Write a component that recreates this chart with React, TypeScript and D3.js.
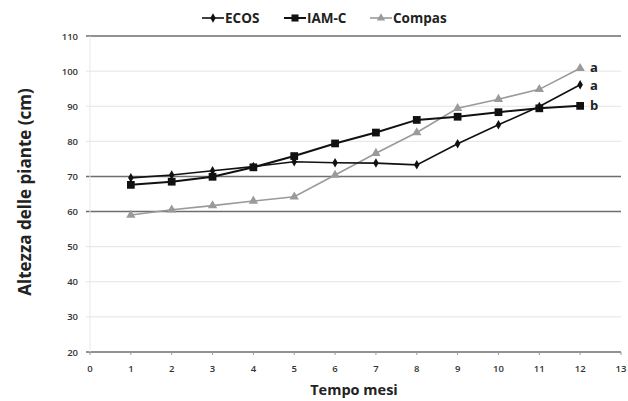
import { useEffect, useRef } from "react"
import * as d3 from "d3"

const months = [1, 2, 3, 4, 5, 6, 7, 8, 9, 10, 11, 12]
const ecos = [69.6, 70.4, 71.6, 72.8, 74.2, 73.9, 73.8, 73.3, 79.3, 84.7, 89.9, 96.1]
const iamc = [67.6, 68.5, 69.9, 72.6, 75.8, 79.4, 82.5, 86.1, 87.0, 88.3, 89.4, 90.1]
const compas = [59.0, 60.5, 61.7, 63.0, 64.2, 70.4, 76.6, 82.5, 89.4, 92.0, 94.8, 100.8]
const yTicks = [20, 30, 40, 50, 60, 70, 80, 90, 100, 110]
const darkLines = [20, 60, 70, 110]
const xTicks = d3.range(0, 14)
const endLetters = [
    { v: 101, t: "a" },
    { v: 96, t: "a" },
    { v: 90.2, t: "b" },
]

const FONT = "'Open Sans', 'DejaVu Sans', sans-serif"

export default function App() {
    const ref = useRef<SVGSVGElement | null>(null)

    useEffect(() => {
        const svg = d3.select(ref.current)
        svg.selectAll("*").remove()

        const x = d3.scaleLinear().domain([0, 13]).range([90, 621])
        const y = d3.scaleLinear().domain([20, 110]).range([352, 36])

        // grid lines
        svg.append("g")
            .selectAll("line")
            .data(yTicks)
            .join("line")
            .attr("x1", 86)
            .attr("x2", 621)
            .attr("y1", d => y(d))
            .attr("y2", d => y(d))
            .attr("stroke", d => (darkLines.includes(d) ? "#6e6e6e" : "#e4e4e4"))
            .attr("stroke-width", d => (darkLines.includes(d) ? 1.4 : 1))

        // faint vertical axis
        svg.append("line")
            .attr("x1", x(0)).attr("x2", x(0))
            .attr("y1", y(110)).attr("y2", y(20))
            .attr("stroke", "#e8e8e8")

        // x tick marks
        svg.append("g")
            .selectAll("line")
            .data(xTicks)
            .join("line")
            .attr("x1", d => x(d)).attr("x2", d => x(d))
            .attr("y1", y(20)).attr("y2", y(20) + 3)
            .attr("stroke", "#999")

        // y labels
        svg.append("g")
            .selectAll("text")
            .data(yTicks)
            .join("text")
            .attr("x", 78)
            .attr("y", d => y(d) + 3.5)
            .attr("text-anchor", "end")
            .attr("font-family", FONT)
            .attr("font-size", 9.5)
            .attr("font-weight", 600)
            .attr("fill", "#333")
            .text(d => d)

        // x labels
        svg.append("g")
            .selectAll("text")
            .data(xTicks)
            .join("text")
            .attr("x", d => x(d))
            .attr("y", 372)
            .attr("text-anchor", "middle")
            .attr("font-family", FONT)
            .attr("font-size", 9.5)
            .attr("font-weight", 600)
            .attr("fill", "#333")
            .text(d => d)

        // axis titles
        svg.append("text")
            .attr("x", 354)
            .attr("y", 395)
            .attr("text-anchor", "middle")
            .attr("font-family", FONT)
            .attr("font-weight", 700)
            .attr("font-size", 14.5)
            .attr("fill", "#222")
            .text("Tempo mesi")

        svg.append("text")
            .attr("transform", "translate(31,192) rotate(-90)")
            .attr("text-anchor", "middle")
            .attr("font-family", FONT)
            .attr("font-weight", 700)
            .attr("font-size", 17)
            .attr("fill", "#222")
            .text("Altezza delle piante (cm)")

        const line = d3.line<number>()
            .x((_, i) => x(months[i]))
            .y(d => y(d))

        const series = [
            { vals: compas, color: "#9a9a9a", w: 1.6, sym: d3.symbolTriangle, size: 38 },
            { vals: iamc, color: "#111", w: 2, sym: d3.symbolSquare, size: 60 },
            { vals: ecos, color: "#111", w: 1.6, sym: d3.symbolDiamond, size: 26 },
        ]

        series.forEach(s => {
            svg.append("path")
                .datum(s.vals)
                .attr("fill", "none")
                .attr("stroke", s.color)
                .attr("stroke-width", s.w)
                .attr("d", line)
            svg.append("g")
                .selectAll("path")
                .data(s.vals)
                .join("path")
                .attr("transform", (d, i) => `translate(${x(months[i])},${y(d)})`)
                .attr("d", d3.symbol().type(s.sym).size(s.size)())
                .attr("fill", s.color)
        })

        // significance letters
        svg.append("g")
            .selectAll("text")
            .data(endLetters)
            .join("text")
            .attr("x", 590)
            .attr("y", d => y(d.v) + 4.5)
            .attr("font-family", FONT)
            .attr("font-weight", 700)
            .attr("font-size", 13)
            .attr("fill", "#222")
            .text(d => d.t)

        // legend
        const legend = [
            { name: "ECOS", x0: 202, color: "#111", sym: d3.symbolDiamond, size: 26, w: 1.6 },
            { name: "IAM-C", x0: 284, color: "#111", sym: d3.symbolSquare, size: 50, w: 2 },
            { name: "Compas", x0: 370, color: "#9a9a9a", sym: d3.symbolTriangle, size: 30, w: 1.6 },
        ]
        const lg = svg.append("g").attr("transform", "translate(0,18)")
        legend.forEach(l => {
            lg.append("line")
                .attr("x1", l.x0).attr("x2", l.x0 + 22)
                .attr("stroke", l.color).attr("stroke-width", l.w)
            lg.append("path")
                .attr("transform", `translate(${l.x0 + 11},0)`)
                .attr("d", d3.symbol().type(l.sym).size(l.size)())
                .attr("fill", l.color)
            lg.append("text")
                .attr("x", l.x0 + 23)
                .attr("y", 5)
                .attr("font-family", FONT)
                .attr("font-weight", 700)
                .attr("font-size", 13.5)
                .attr("fill", "#222")
                .text(l.name)
        })
    }, [])

    return (
        <svg
            ref={ref}
            width={628}
            height={401}
            style={{ position: "absolute", left: 0, top: 0, background: "#fff" }}
        />
    )
}
